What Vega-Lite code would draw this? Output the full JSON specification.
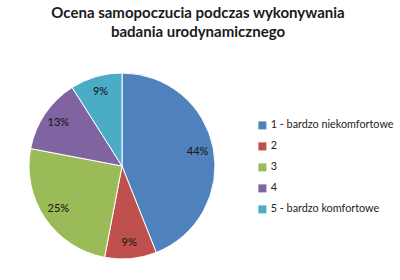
{
  "$schema": "https://vega.github.io/schema/vega-lite/v6.json",
  "width": 186,
  "height": 186,
  "padding": {"left": 27, "top": 6, "right": 5, "bottom": 5},
  "background": "white",
  "title": {
    "text": ["Ocena samopoczucia podczas wykonywania", "badania urodynamicznego"],
    "font": "Lato",
    "fontSize": 15,
    "fontWeight": "bold",
    "color": "#1a1a1a",
    "anchor": "middle",
    "frame": "group",
    "dx": 76,
    "lineHeight": 19,
    "offset": 31
  },
  "config": {"view": {"stroke": null}},
  "data": {
    "values": [
      {"kat": "1 - bardzo niekomfortowe", "value": 44},
      {"kat": "2", "value": 9},
      {"kat": "3", "value": 25},
      {"kat": "4", "value": 13},
      {"kat": "5 - bardzo komfortowe", "value": 9}
    ]
  },
  "transform": [{"calculate": "datum.value + '%'", "as": "label"}],
  "encoding": {
    "theta": {"field": "value", "type": "quantitative", "stack": true},
    "order": {"field": "kat", "type": "ordinal"}
  },
  "layer": [
    {
      "mark": {"type": "arc", "outerRadius": 93, "stroke": "white", "strokeWidth": 1},
      "encoding": {
        "color": {
          "field": "kat",
          "type": "nominal",
          "scale": {
            "domain": ["1 - bardzo niekomfortowe", "2", "3", "4", "5 - bardzo komfortowe"],
            "range": ["#4F81BD", "#C0504D", "#9BBB59", "#8064A2", "#4BACC6"]
          },
          "legend": {
            "title": null,
            "orient": "none",
            "legendX": 228,
            "legendY": 47,
            "symbolType": "square",
            "symbolSize": 64,
            "symbolStrokeWidth": 0,
            "labelFont": "Lato",
            "labelFontSize": 10.8,
            "labelColor": "#222222",
            "rowPadding": 9,
            "labelOffset": 3,
            "labelLimit": 200
          }
        }
      }
    },
    {
      "mark": {"type": "text", "radius": 77, "font": "Lato", "fontSize": 11, "fontWeight": 500, "color": "#1a1a1a"},
      "encoding": {"text": {"field": "label", "type": "nominal"}}
    }
  ]
}
